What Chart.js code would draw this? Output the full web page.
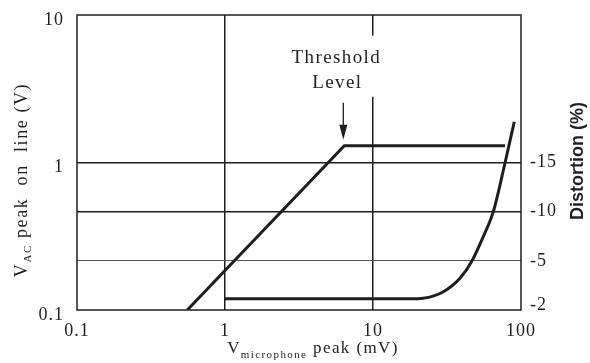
<!DOCTYPE html>
<html>
<head>
<meta charset="utf-8">
<script src="https://cdn.jsdelivr.net/npm/chart.js@4.4.1/dist/chart.umd.min.js"></script>
<style>
  html, body { margin: 0; padding: 0; background: #fff; }
</style>
</head>
<body>
<canvas id="graficaUmbral" width="590" height="363"></canvas>
<script>
// Ejes (escala logarítmica)
const xTicks = [0.1, 1, 10, 100];
const yTicks = [0.1, 1, 10];
const distortionTicks = [0.107, 0.215, 0.464, 1];
const distortionLabels = ['-2', '-5', '-10', '-15'];

// V AC peak on line
const vacX = [0.556, 6.4, 78];
const vacY = [0.1, 1.3, 1.3];

// Distorsión (dibujada sobre la escala izquierda)
const distX = [1, 18, 21.8, 29.9, 38.7, 46.4, 55.6, 65.0, 77.9, 90.1];
const distY = [0.119, 0.119, 0.12, 0.133, 0.164, 0.213, 0.314, 0.464, 0.988, 1.89];

const INK = '#1e1e1e';
const SERIF = '"Liberation Serif", "DejaVu Serif", serif';

function puntos(xs, ys) {
    return xs.map((x, i) => ({ x: x, y: ys[i] }));
}

// texto con subíndice, centrado en (x, y)
function textoPartes(ctx, partes, x, y, espaciado) {
    ctx.letterSpacing = espaciado + 'px';
    let total = 0;
    partes.forEach(p => {
        ctx.font = p[1] + 'px ' + SERIF;
        total += ctx.measureText(p[0]).width;
    });
    let cx = x - total / 2;
    partes.forEach(p => {
        ctx.font = p[1] + 'px ' + SERIF;
        ctx.fillText(p[0], cx, y + p[2]);
        cx += ctx.measureText(p[0]).width;
    });
    ctx.letterSpacing = '0px';
}

const extras = {
    id: 'extras',
    beforeDraw(chart) {
        // números de los ejes un poco espaciados
        chart.ctx.letterSpacing = '1px';
    },
    beforeDatasetsDraw(chart) {
        chart.ctx.letterSpacing = '0px';
    },
    afterDraw(chart) {
        const ctx = chart.ctx;
        const a = chart.chartArea;
        const sx = chart.scales.x;
        const sy = chart.scales.y;
        ctx.save();

        // marco
        ctx.strokeStyle = INK;
        ctx.lineWidth = 1.5;
        ctx.strokeRect(a.left, a.top, a.right - a.left, a.bottom - a.top);

        // anotación "Threshold Level"
        const px = sx.getPixelForValue(vacX[1]);
        const py = sy.getPixelForValue(vacY[1]);
        ctx.fillStyle = '#fff';
        ctx.fillRect(px - 57, py - 110, 97, 61);
        ctx.fillStyle = INK;
        ctx.textAlign = 'center';
        ctx.textBaseline = 'alphabetic';
        ctx.font = '19px ' + SERIF;
        ctx.letterSpacing = '1.4px';
        ctx.fillText('Threshold', px - 8, py - 83);
        ctx.fillText('Level', px - 7, py - 58);
        ctx.letterSpacing = '0px';
        ctx.strokeStyle = INK;
        ctx.lineWidth = 1.3;
        ctx.beginPath();
        ctx.moveTo(px - 1, py - 43);
        ctx.lineTo(px - 1, py - 18);
        ctx.stroke();
        ctx.beginPath();
        ctx.moveTo(px - 5, py - 21);
        ctx.lineTo(px + 3, py - 21);
        ctx.lineTo(px - 1, py - 6);
        ctx.closePath();
        ctx.fill();

        // títulos de ejes
        ctx.textAlign = 'left';
        textoPartes(ctx, [['V', 17, 0], ['microphone', 11, 5], [' peak (mV)', 17, 0]], 313, 353, 1.4);

        ctx.save();
        ctx.translate(27, 180);
        ctx.rotate(-Math.PI / 2);
        textoPartes(ctx, [['V', 18, 0], ['AC', 11, 4], [' peak  on  line (V)', 18, 0]], 0, 0, 1.6);
        ctx.restore();

        ctx.save();
        ctx.translate(578, 161);
        ctx.rotate(-Math.PI / 2);
        ctx.textAlign = 'center';
        ctx.textBaseline = 'middle';
        ctx.font = 'bold 18px "Liberation Sans", Arial, sans-serif';
        ctx.fillText('Distortion (%)', 0, 0);
        ctx.restore();

        ctx.restore();
    }
};

const ctxUmbral = document.getElementById('graficaUmbral').getContext('2d');
new Chart(ctxUmbral, {
    type: 'line',
    data: {
        datasets: [
            {
                label: 'VAC',
                data: puntos(vacX, vacY),
                borderColor: INK,
                borderWidth: 3,
                pointRadius: 0,
                tension: 0,
                yAxisID: 'y'
            },
            {
                label: 'Distortion',
                data: puntos(distX, distY),
                borderColor: INK,
                borderWidth: 3,
                pointRadius: 0,
                cubicInterpolationMode: 'monotone',
                yAxisID: 'y'
            }
        ]
    },
    options: {
        responsive: false,
        animation: false,
        layout: { padding: { top: 15, left: 0, right: 0, bottom: 0 } },
        plugins: {
            legend: { display: false },
            tooltip: { enabled: false }
        },
        scales: {
            x: {
                type: 'logarithmic',
                position: 'bottom',
                min: 0.1,
                max: 100,
                afterBuildTicks: s => { s.ticks = xTicks.map(v => ({ value: v })); },
                afterFit: s => { s.height = 53; s.paddingLeft = 0; s.paddingRight = 0; },
                border: { display: false },
                grid: {
                    drawTicks: false,
                    lineWidth: 1.5,
                    color: c => (c.tick && (c.tick.value === 1 || c.tick.value === 10)) ? INK : 'rgba(0,0,0,0)'
                },
                ticks: {
                    padding: 10,
                    color: INK,
                    font: { family: SERIF, size: 18 },
                    callback: v => String(v)
                }
            },
            y: {
                type: 'logarithmic',
                position: 'left',
                min: 0.1,
                max: 10,
                afterBuildTicks: s => { s.ticks = yTicks.map(v => ({ value: v })); },
                afterFit: s => { s.width = 77; s.paddingTop = 0; s.paddingBottom = 0; },
                border: { display: false },
                grid: {
                    drawTicks: false,
                    lineWidth: 1.5,
                    color: c => (c.tick && c.tick.value === 1) ? INK : 'rgba(0,0,0,0)'
                },
                ticks: {
                    padding: 13,
                    labelOffset: 5,
                    color: INK,
                    font: { family: SERIF, size: 18 },
                    callback: v => String(v)
                }
            },
            y2: {
                type: 'logarithmic',
                position: 'right',
                min: 0.1,
                max: 10,
                afterBuildTicks: s => { s.ticks = distortionTicks.map(v => ({ value: v })); },
                afterFit: s => { s.width = 69; s.paddingTop = 0; s.paddingBottom = 0; },
                border: { display: false },
                grid: {
                    drawTicks: false,
                    lineWidth: c => (c.index === 1) ? 1 : 1.5,
                    color: c => {
                        if (c.index === 1) return '#555';
                        if (c.index === 2) return INK;
                        return 'rgba(0,0,0,0)';
                    }
                },
                ticks: {
                    padding: 9,
                    color: INK,
                    font: { family: SERIF, size: 18 },
                    callback: (v, i) => distortionLabels[i]
                }
            }
        }
    },
    plugins: [extras]
});
</script>
</body>
</html>
